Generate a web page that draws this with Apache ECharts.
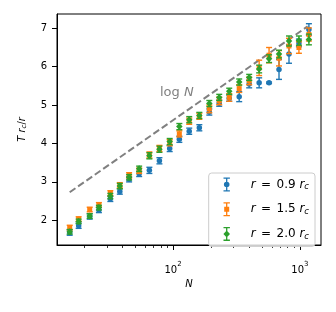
<!DOCTYPE html>
<html><head><meta charset="utf-8">
<script src="https://cdn.jsdelivr.net/npm/echarts@6/dist/echarts.min.js"></script>
<style>html,body{margin:0;padding:0;background:#fff}#c{width:336px;height:312px}</style>
</head><body><div id="c"></div>
<script>
// ---- data ----
const N = [15.3, 18, 22, 26, 32, 38, 45, 54, 65, 78, 94, 112, 134, 161, 193, 231, 277, 332, 398, 477, 571, 684, 820, 982, 1177];
const blueY   = [1.68, 1.86, 2.10, 2.27, 2.56, 2.75, 3.07, 3.21, 3.30, 3.55, 3.87, 4.11, 4.32, 4.41, 4.82, 5.05, 5.18, 5.22, 5.55, 5.58, 5.58, 5.93, 6.33, 6.62, 6.97];
const blueErr = [0.07, 0.07, 0.07, 0.07, 0.07, 0.07, 0.07, 0.07, 0.08, 0.08, 0.08, 0.08, 0.08, 0.08, 0.08, 0.08, 0.08, 0.13, 0.10, 0.13, 0.02, 0.26, 0.24, 0.10, 0.15];
const orangeY   = [1.81, 2.03, 2.28, 2.40, 2.70, 2.91, 3.17, 3.29, 3.70, 3.87, 4.02, 4.25, 4.58, 4.71, 4.90, 5.11, 5.20, 5.43, 5.63, 5.97, 6.30, 6.22, 6.54, 6.50, 6.84];
const orangeErr = [0.06, 0.06, 0.06, 0.06, 0.07, 0.07, 0.07, 0.07, 0.08, 0.08, 0.08, 0.08, 0.08, 0.08, 0.10, 0.10, 0.10, 0.10, 0.10, 0.20, 0.20, 0.20, 0.20, 0.15, 0.17];
const greenY   = [1.70, 1.97, 2.11, 2.33, 2.63, 2.89, 3.12, 3.34, 3.68, 3.85, 4.05, 4.44, 4.62, 4.73, 5.04, 5.20, 5.36, 5.60, 5.72, 5.94, 6.21, 6.33, 6.67, 6.68, 6.71];
const greenErr = [0.06, 0.06, 0.06, 0.06, 0.07, 0.07, 0.07, 0.07, 0.08, 0.08, 0.08, 0.08, 0.08, 0.08, 0.08, 0.08, 0.08, 0.08, 0.08, 0.10, 0.10, 0.10, 0.13, 0.12, 0.14];
const logLineN = [15.3, 1150];
const logLineY = [2.73, 7.05];
const seriesNames = ['r = 0.9 rc', 'r = 1.5 rc', 'r = 2.0 rc'];
const legendLabels = ['{i|r}{sp| }={sp| }0.9 {i|r}{s|c}', '{i|r}{sp| }={sp| }1.5 {i|r}{s|c}', '{i|r}{sp| }={sp| }2.0 {i|r}{s|c}'];
const xMajorTicks = [100, 1000];
const xMinorTicks = [20, 30, 40, 50, 60, 70, 80, 90, 200, 300, 400, 500, 600, 700, 800, 900];
const yTicks = [2, 3, 4, 5, 6, 7];
const xRange = [12.15, 1466];
const yRange = [1.356, 7.373];

const colors = ['#1f77b4', '#ff7f0e', '#2ca02c'];
const FONT = 'DejaVu Sans';
const lg = Math.log10;

function errRender(color) {
  return function (params, api) {
    const x = api.value(0), y = api.value(1), e = api.value(2);
    const t = api.coord([x, y + e]), b = api.coord([x, y - e]);
    const hw = 3;
    const st = { stroke: color, lineWidth: 1.4, fill: null };
    return { type: 'group', children: [
      { type: 'line', shape: { x1: t[0], y1: t[1], x2: b[0], y2: b[1] }, style: st },
      { type: 'line', shape: { x1: t[0] - hw, y1: t[1], x2: t[0] + hw, y2: t[1] }, style: st },
      { type: 'line', shape: { x1: b[0] - hw, y1: b[1], x2: b[0] + hw, y2: b[1] }, style: st }
    ]};
  };
}

const ys = [blueY, orangeY, greenY];
const es = [blueErr, orangeErr, greenErr];
const symbols = ['circle', 'rect', 'diamond'];
const sizes = [5.5, 5, [6.5, 7]];

const base = 'M0 7h0.01v0.01h-0.01Z M31.99 7h0.01v0.01h-0.01Z M9.8 0H16.2V1.3H9.8Z M9.8 12.7H16.2V14H9.8Z M12.35 0H13.65V14H12.35Z ';
const icons = [
  'path://' + base + 'M10.2 7A2.8 2.8 0 1 1 15.8 7A2.8 2.8 0 1 1 10.2 7Z',
  'path://' + base + 'M10.5 4.5H15.5V9.5H10.5Z',
  'path://' + base + 'M13 3.5L16.3 7L13 10.5L9.7 7Z'
];

const series = [];
for (let s = 0; s < 3; s++) {
  series.push({
    name: seriesNames[s], type: 'custom', renderItem: errRender(colors[s]),
    itemStyle: { color: colors[s] },
    encode: { x: 0, y: 1 },
    data: N.map((n, i) => [lg(n), ys[s][i], es[s][i]]),
    z: 3 + s * 2
  });
  series.push({
    name: seriesNames[s], type: 'scatter', symbol: symbols[s], symbolSize: sizes[s],
    itemStyle: { color: colors[s], opacity: 1 },
    data: N.map((n, i) => [lg(n), ys[s][i]]),
    z: 4 + s * 2
  });
}
series.unshift({
  type: 'line', data: logLineN.map((n, i) => [lg(n), logLineY[i]]),
  symbol: 'none', lineStyle: { color: '#808080', width: 2, type: [7, 3.2] }, z: 2, silent: true
});

const chart = echarts.init(document.getElementById('c'), null, { renderer: 'canvas' });
chart.setOption({
  animation: false,
  textStyle: { fontFamily: FONT },
  grid: { left: 57, right: 15, top: 14, bottom: 67, show: true, borderColor: '#000', borderWidth: 1, containLabel: false },
  xAxis: [{
    type: 'value', min: lg(xRange[0]), max: lg(xRange[1]), position: 'bottom',
    axisLine: { show: true, onZero: false, lineStyle: { color: '#000', width: 1 } },
    axisTick: { show: true, length: 5, lineStyle: { color: '#000', width: 1 }, customValues: xMajorTicks.map(lg) },
    axisLabel: {
      color: '#000', fontSize: 10, fontFamily: FONT, margin: 16, customValues: xMajorTicks.map(lg),
      formatter: v => '{b|10}{p|' + Math.round(v) + '}',
      rich: { b: { fontSize: 10, fontFamily: FONT, color: '#000', verticalAlign: 'bottom' },
              p: { fontSize: 7, fontFamily: FONT, color: '#000', verticalAlign: 'bottom', padding: [0, 0, 7, 0] } }
    },
    splitLine: { show: false },
    name: '{i|N}', nameLocation: 'middle', nameGap: 33,
    nameTextStyle: { color: '#000', fontSize: 10, rich: { i: { fontStyle: 'italic', fontSize: 10, fontFamily: FONT, color: '#000' } } }
  }, {
    type: 'value', min: lg(xRange[0]), max: lg(xRange[1]), position: 'bottom',
    axisLine: { show: false, onZero: false },
    axisTick: { show: true, length: 3, lineStyle: { color: '#000', width: 0.8 }, customValues: xMinorTicks.map(lg) },
    axisLabel: { show: false },
    splitLine: { show: false }
  }],
  yAxis: {
    type: 'value', min: yRange[0], max: yRange[1],
    axisLine: { show: true, onZero: false, lineStyle: { color: '#000', width: 1 } },
    axisTick: { show: true, length: 5, lineStyle: { color: '#000', width: 1 }, customValues: yTicks },
    axisLabel: { color: '#000', fontSize: 10, fontFamily: FONT, margin: 10, customValues: yTicks },
    splitLine: { show: false },
    name: '{i|T} {i|r}{s|c}/{i|r}', nameLocation: 'middle', nameGap: 29, nameRotate: 90,
    nameTextStyle: { color: '#000', fontSize: 10, rich: {
      i: { fontStyle: 'italic', fontSize: 10, fontFamily: FONT, color: '#000' },
      s: { fontStyle: 'italic', fontSize: 7, fontFamily: FONT, color: '#000', padding: [5, 0, 0, 0] } } }
  },
  legend: {
    orient: 'vertical', right: 21, top: 173,
    data: seriesNames.map((n, i) => ({ name: n, icon: icons[i] })),
    itemWidth: 32, itemHeight: 14, itemGap: 7.7,
    padding: [3, 6, 4, 5],
    backgroundColor: 'rgba(255,255,255,0.8)', borderColor: '#cccccc', borderWidth: 1, borderRadius: 3,
    selectedMode: false,
    formatter: name => legendLabels[seriesNames.indexOf(name)],
    textStyle: { color: '#000', fontSize: 12, fontFamily: FONT,
      rich: { i: { fontStyle: 'italic', fontSize: 12, fontFamily: FONT, color: '#000' },
              sp: { fontSize: 17, fontFamily: FONT, color: '#000' },
              s: { fontStyle: 'italic', fontSize: 8.5, fontFamily: FONT, color: '#000', padding: [5, 0, 0, 0] } } }
  },
  graphic: [{
    type: 'text', left: 160, top: 86,
    style: { text: '{a|log }{b|N}', rich: {
      a: { fontSize: 13, fontFamily: FONT, fill: '#808080' },
      b: { fontSize: 13, fontFamily: FONT, fontStyle: 'italic', fill: '#808080' } } }
  }],
  series: series
});
</script></body></html>
